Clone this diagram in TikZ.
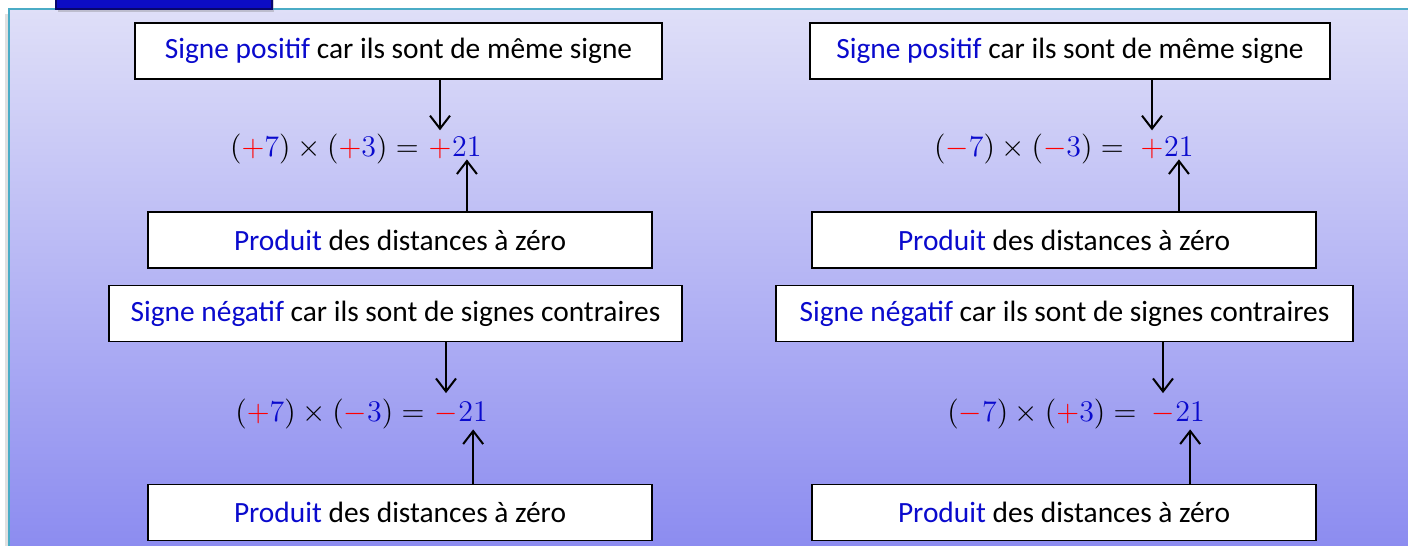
\RequirePackage{fix-cm}
\documentclass[tikz,border=0pt]{standalone}
\usepackage{fontspec}
\setmainfont{Carlito}
\usetikzlibrary{arrows.meta,shadows}

\definecolor{motbleu}{RGB}{10,10,205}
\definecolor{signerouge}{RGB}{255,0,0}
\definecolor{fondhaut}{RGB}{223,223,248}
\definecolor{fondbas}{RGB}{138,138,240}
\definecolor{bordcadre}{RGB}{75,172,198}
\definecolor{onglet}{RGB}{12,12,196}

\newcommand{\bl}[1]{\textcolor{motbleu}{#1}}
\newcommand{\rg}[1]{\textcolor{signerouge}{#1}}

\begin{document}
\begin{tikzpicture}[x=0.5pt,y=-0.5pt,
    cadre/.style={draw, fill=white, line width=0.8pt, minimum height=28pt, inner sep=0pt,
      font=\fontsize{14.7}{17}\selectfont},
    calcul/.style={inner sep=0pt, font=\fontsize{15}{18}\selectfont},
    fleche/.style={line width=1pt, -{Straight Barb[length=6.5pt, width=10pt]}}]
      \useasboundingbox (0,0) rectangle (1408,546);
      \clip (0,0) rectangle (1408,546);
      \shade[top color=fondhaut, bottom color=fondbas] (9,9) rectangle (1420,560);
      \draw[black!12, line width=1.5pt] (6,14) -- (6,560);
      \draw[bordcadre, line width=1pt] (9,560) -- (9,9) -- (1420,9);
      \filldraw[fill=onglet, draw=onglet!55!black, line width=0.6pt,
        drop shadow={shadow xshift=1pt, shadow yshift=-1.5pt, opacity=0.35}] (56,-10) rectangle (272,9);

      % colonne de gauche
      \node[cadre, minimum width=263.5pt] (sp1) at (398.5,51) {\bl{Signe positif} car ils sont de même signe};
      \node[calcul, anchor=base, inner ysep=4pt] (sg1) at (440,156) {$\rg{+}$};
      \node[calcul, anchor=base west, inner ysep=1.5pt] (nb1) at (sg1.base east) {$\bl{21}$};
      \node[calcul, anchor=base east] (gc1) at ([xshift=-4.5pt]sg1.base west) {$(\rg{+}\bl{7})\times(\rg{+}\bl{3})=$};
      \node[cadre, minimum width=252pt] (pr1) at (400,240) {\bl{Produit} des distances à zéro};
      \draw[fleche] (sp1.south -| sg1.north) -- (sg1.north);
      \draw[fleche] (pr1.north -| nb1.south) -- (nb1.south);

      \node[cadre, minimum width=286.5pt] (sn1) at (395.5,313.5) {\bl{Signe négatif} car ils sont de signes contraires};
      \node[calcul, anchor=base, inner ysep=5pt] (sg2) at (446,421) {$\rg{-}$};
      \node[calcul, anchor=base west, inner ysep=4pt] (nb2) at (sg2.base east) {$\bl{21}$};
      \node[calcul, anchor=base east] (gc2) at ([xshift=-4.5pt]sg2.base west) {$(\rg{+}\bl{7})\times(\rg{-}\bl{3})=$};
      \node[cadre, minimum width=252pt] (pr2) at (400,512.5) {\bl{Produit} des distances à zéro};
      \draw[fleche] (sn1.south -| sg2.north) -- (sg2.north);
      \draw[fleche] (pr2.north -| nb2.south) -- (nb2.south);

      % colonne de droite
      \node[cadre, minimum width=260pt] (sp2) at (1070,51) {\bl{Signe positif} car ils sont de même signe};
      \node[calcul, anchor=base, inner ysep=4pt] (sg3) at (1152,156) {$\rg{+}$};
      \node[calcul, anchor=base west, inner ysep=1.5pt] (nb3) at (sg3.base east) {$\bl{21}$};
      \node[calcul, anchor=base east] (gc3) at ([xshift=-8pt]sg3.base west) {$(\rg{-}\bl{7})\times(\rg{-}\bl{3})=$};
      \node[cadre, minimum width=252pt] (pr3) at (1064,240) {\bl{Produit} des distances à zéro};
      \draw[fleche] (sp2.south -| sg3.north) -- (sg3.north);
      \draw[fleche] (pr3.north -| nb3.south) -- (nb3.south);

      \node[cadre, minimum width=288.5pt] (sn2) at (1064.5,313.5) {\bl{Signe négatif} car ils sont de signes contraires};
      \node[calcul, anchor=base, inner ysep=5pt] (sg4) at (1163,421) {$\rg{-}$};
      \node[calcul, anchor=base west, inner ysep=4pt] (nb4) at (sg4.base east) {$\bl{21}$};
      \node[calcul, anchor=base east] (gc4) at ([xshift=-7pt]sg4.base west) {$(\rg{-}\bl{7})\times(\rg{+}\bl{3})=$};
      \node[cadre, minimum width=252pt] (pr4) at (1064,512.5) {\bl{Produit} des distances à zéro};
      \draw[fleche] (sn2.south -| sg4.north) -- (sg4.north);
      \draw[fleche] (pr4.north -| nb4.south) -- (nb4.south);
\end{tikzpicture}
\end{document}
